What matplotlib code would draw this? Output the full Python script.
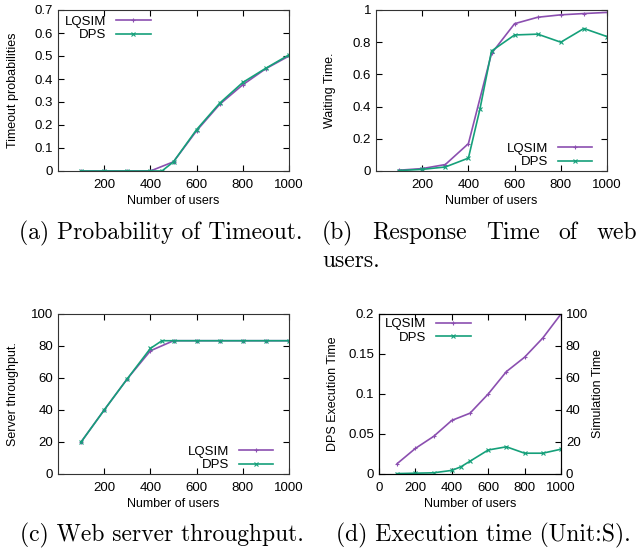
import matplotlib

matplotlib.use("Agg")
import matplotlib.pyplot as plt
from matplotlib.ticker import FuncFormatter

plt.rcParams["font.family"] = ["Liberation Sans", "DejaVu Sans"]

LQ_COLOR = "#8b4fb0"
DPS_COLOR = "#15a07a"

# x values: LQSIM runs every 100 users, DPS also has a point at 450
X_LQ = [100, 200, 300, 400, 500, 600, 700, 800, 900, 1000]
X_DPS = [100, 200, 300, 400, 450, 500, 600, 700, 800, 900, 1000]

# (a) timeout probability
timeout_lq = [0, 0, 0, 0, 0.04, 0.175, 0.29, 0.375, 0.445, 0.50]
timeout_dps = [0, 0, 0, 0, 0, 0.04, 0.18, 0.295, 0.385, 0.447, 0.505]

# (b) response / waiting time
wait_lq = [0.005, 0.015, 0.04, 0.17, 0.73, 0.915, 0.955, 0.97, 0.978, 0.985]
wait_dps = [0.003, 0.01, 0.025, 0.08, 0.385, 0.745, 0.845, 0.85, 0.80, 0.885, 0.835]

# (c) server throughput
thr_lq = [20, 40, 59.5, 77, 83.3, 83.3, 83.3, 83.3, 83.3, 83.3]
thr_dps = [20, 40, 59.5, 78.5, 83.3, 83.3, 83.3, 83.3, 83.3, 83.3, 83.3]

# (d) execution time: DPS on left axis, LQSIM simulation time on right axis
exec_dps = [0.0005, 0.001, 0.0015, 0.0045, 0.009, 0.016, 0.030, 0.034, 0.026, 0.026, 0.031]
sim_lq = [6.5, 16, 23.5, 33.5, 38, 50, 64, 73, 85, 100]

CAP_A = "(a) Probability of Timeout."
CAP_B = ["(b)", "Response", "Time", "of", "web"]
CAP_B2 = "users."
CAP_C = "(c) Web server throughput."
CAP_D = "(d) Execution time (Unit:S)."

W, H = 640, 554
TICK_FS = 9.5
LABEL_FS = 9


def fmt(v, _):
    return f"{v:.2f}".rstrip("0").rstrip(".")


def rect(l, t, r, b):
    return [l / W, 1 - b / H, (r - l) / W, (b - t) / H]


def style(ax, ylabel, ylab_x, right=True):
    ax.tick_params(direction="in", labelsize=TICK_FS, length=4, top=True,
                   right=right)
    ax.tick_params(axis="x", pad=6)
    for sp in ax.spines.values():
        sp.set_linewidth(0.8)
        sp.set_color("#333333")
    ax.yaxis.set_major_formatter(FuncFormatter(fmt))
    ax.set_xlabel("Number of users", fontsize=LABEL_FS)
    ax.xaxis.set_label_coords(0.5, -0.15)
    ax.set_ylabel(ylabel, fontsize=LABEL_FS)
    ax.yaxis.set_label_coords(ylab_x, 0.5)


def draw(ax, y_lq, y_dps):
    ax.plot(X_LQ, y_lq, color=LQ_COLOR, lw=1.2, marker="+", ms=3.5,
            mew=0.8, label="LQSIM")
    ax.plot(X_DPS, y_dps, color=DPS_COLOR, lw=1.2, marker="x", ms=3,
            mew=0.8, label="DPS")


LEG = dict(frameon=False, markerfirst=False, fontsize=TICK_FS,
           handlelength=2.6, handletextpad=0.75, labelspacing=0.1,
           borderaxespad=0, borderpad=0)

fig = plt.figure(figsize=(6.4, 5.54), dpi=100)

# (a)
ax = fig.add_axes(rect(58, 10, 289, 171))
draw(ax, timeout_lq, timeout_dps)
ax.set_xlim(0, 1000)
ax.set_ylim(0, 0.7)
ax.set_xticks([200, 400, 600, 800, 1000])
ax.set_yticks([0, 0.1, 0.2, 0.3, 0.4, 0.5, 0.6, 0.7])
style(ax, "Timeout probabilities", -0.169)
ax.legend(loc="upper left", bbox_to_anchor=(0.03, 0.965), **LEG)

# (b)
ax = fig.add_axes(rect(376, 10, 607, 171))
draw(ax, wait_lq, wait_dps)
ax.set_xlim(0, 1000)
ax.set_ylim(0, 1)
ax.set_xticks([200, 400, 600, 800, 1000])
ax.set_yticks([0, 0.2, 0.4, 0.6, 0.8, 1])
style(ax, "Waiting Time.", -0.173)
ax.legend(loc="lower right", bbox_to_anchor=(0.935, 0.016), **LEG)

# (c)
ax = fig.add_axes(rect(58, 314, 289, 474))
draw(ax, thr_lq, thr_dps)
ax.set_xlim(0, 1000)
ax.set_ylim(0, 100)
ax.set_xticks([200, 400, 600, 800, 1000])
ax.set_yticks([0, 20, 40, 60, 80, 100])
style(ax, "Server throughput.", -0.169)
ax.legend(loc="lower right", bbox_to_anchor=(0.931, 0.016), **LEG)

# (d)
ax = fig.add_axes(rect(379, 314, 561, 474))
ax2 = ax.twinx()
l1, = ax2.plot(X_LQ, sim_lq, color=LQ_COLOR, lw=1.2, marker="+", ms=3.5,
               mew=0.8, label="LQSIM")
l2, = ax.plot(X_DPS, exec_dps, color=DPS_COLOR, lw=1.2, marker="x", ms=3,
              mew=0.8, label="DPS")
ax.set_xlim(0, 1000)
ax.set_ylim(0, 0.2)
ax2.set_ylim(0, 100)
ax.set_xticks([0, 200, 400, 600, 800, 1000])
ax.set_yticks([0, 0.05, 0.1, 0.15, 0.2])
ax2.set_yticks([0, 20, 40, 60, 80, 100])
style(ax, "DPS Execution Time", -0.22, right=False)
ax2.tick_params(direction="in", labelsize=TICK_FS, length=4)
ax2.set_ylabel("Simulation Time", fontsize=LABEL_FS)
ax2.yaxis.set_label_coords(1.17, 0.5)
ax.legend(handles=[l1, l2], loc="upper left", bbox_to_anchor=(0.033, 0.975),
          **LEG)

# captions (serif, like the LaTeX subfigure captions)
cap = dict(family="cmr10", fontsize=17, va="baseline")
fig.text(19 / W, 1 - 239 / H, CAP_A, **cap)

# (b) caption is a justified line running from x=322 to x=637
renderer = fig.canvas.get_renderer()
words = [fig.text(0, 1 - 239 / H, w, **cap) for w in CAP_B]
widths = [t.get_window_extent(renderer).width for t in words]
gap = (637 - 322 - sum(widths)) / (len(words) - 1)
x = 322
for t, w in zip(words, widths):
    t.set_x(x / W)
    x += w + gap
fig.text(322 / W, 1 - 267 / H, CAP_B2, **cap)

fig.text(20 / W, 1 - 541 / H, CAP_C, **cap)
fig.text(336 / W, 1 - 541 / H, CAP_D, **cap)

fig.savefig("out.png", dpi=100)
